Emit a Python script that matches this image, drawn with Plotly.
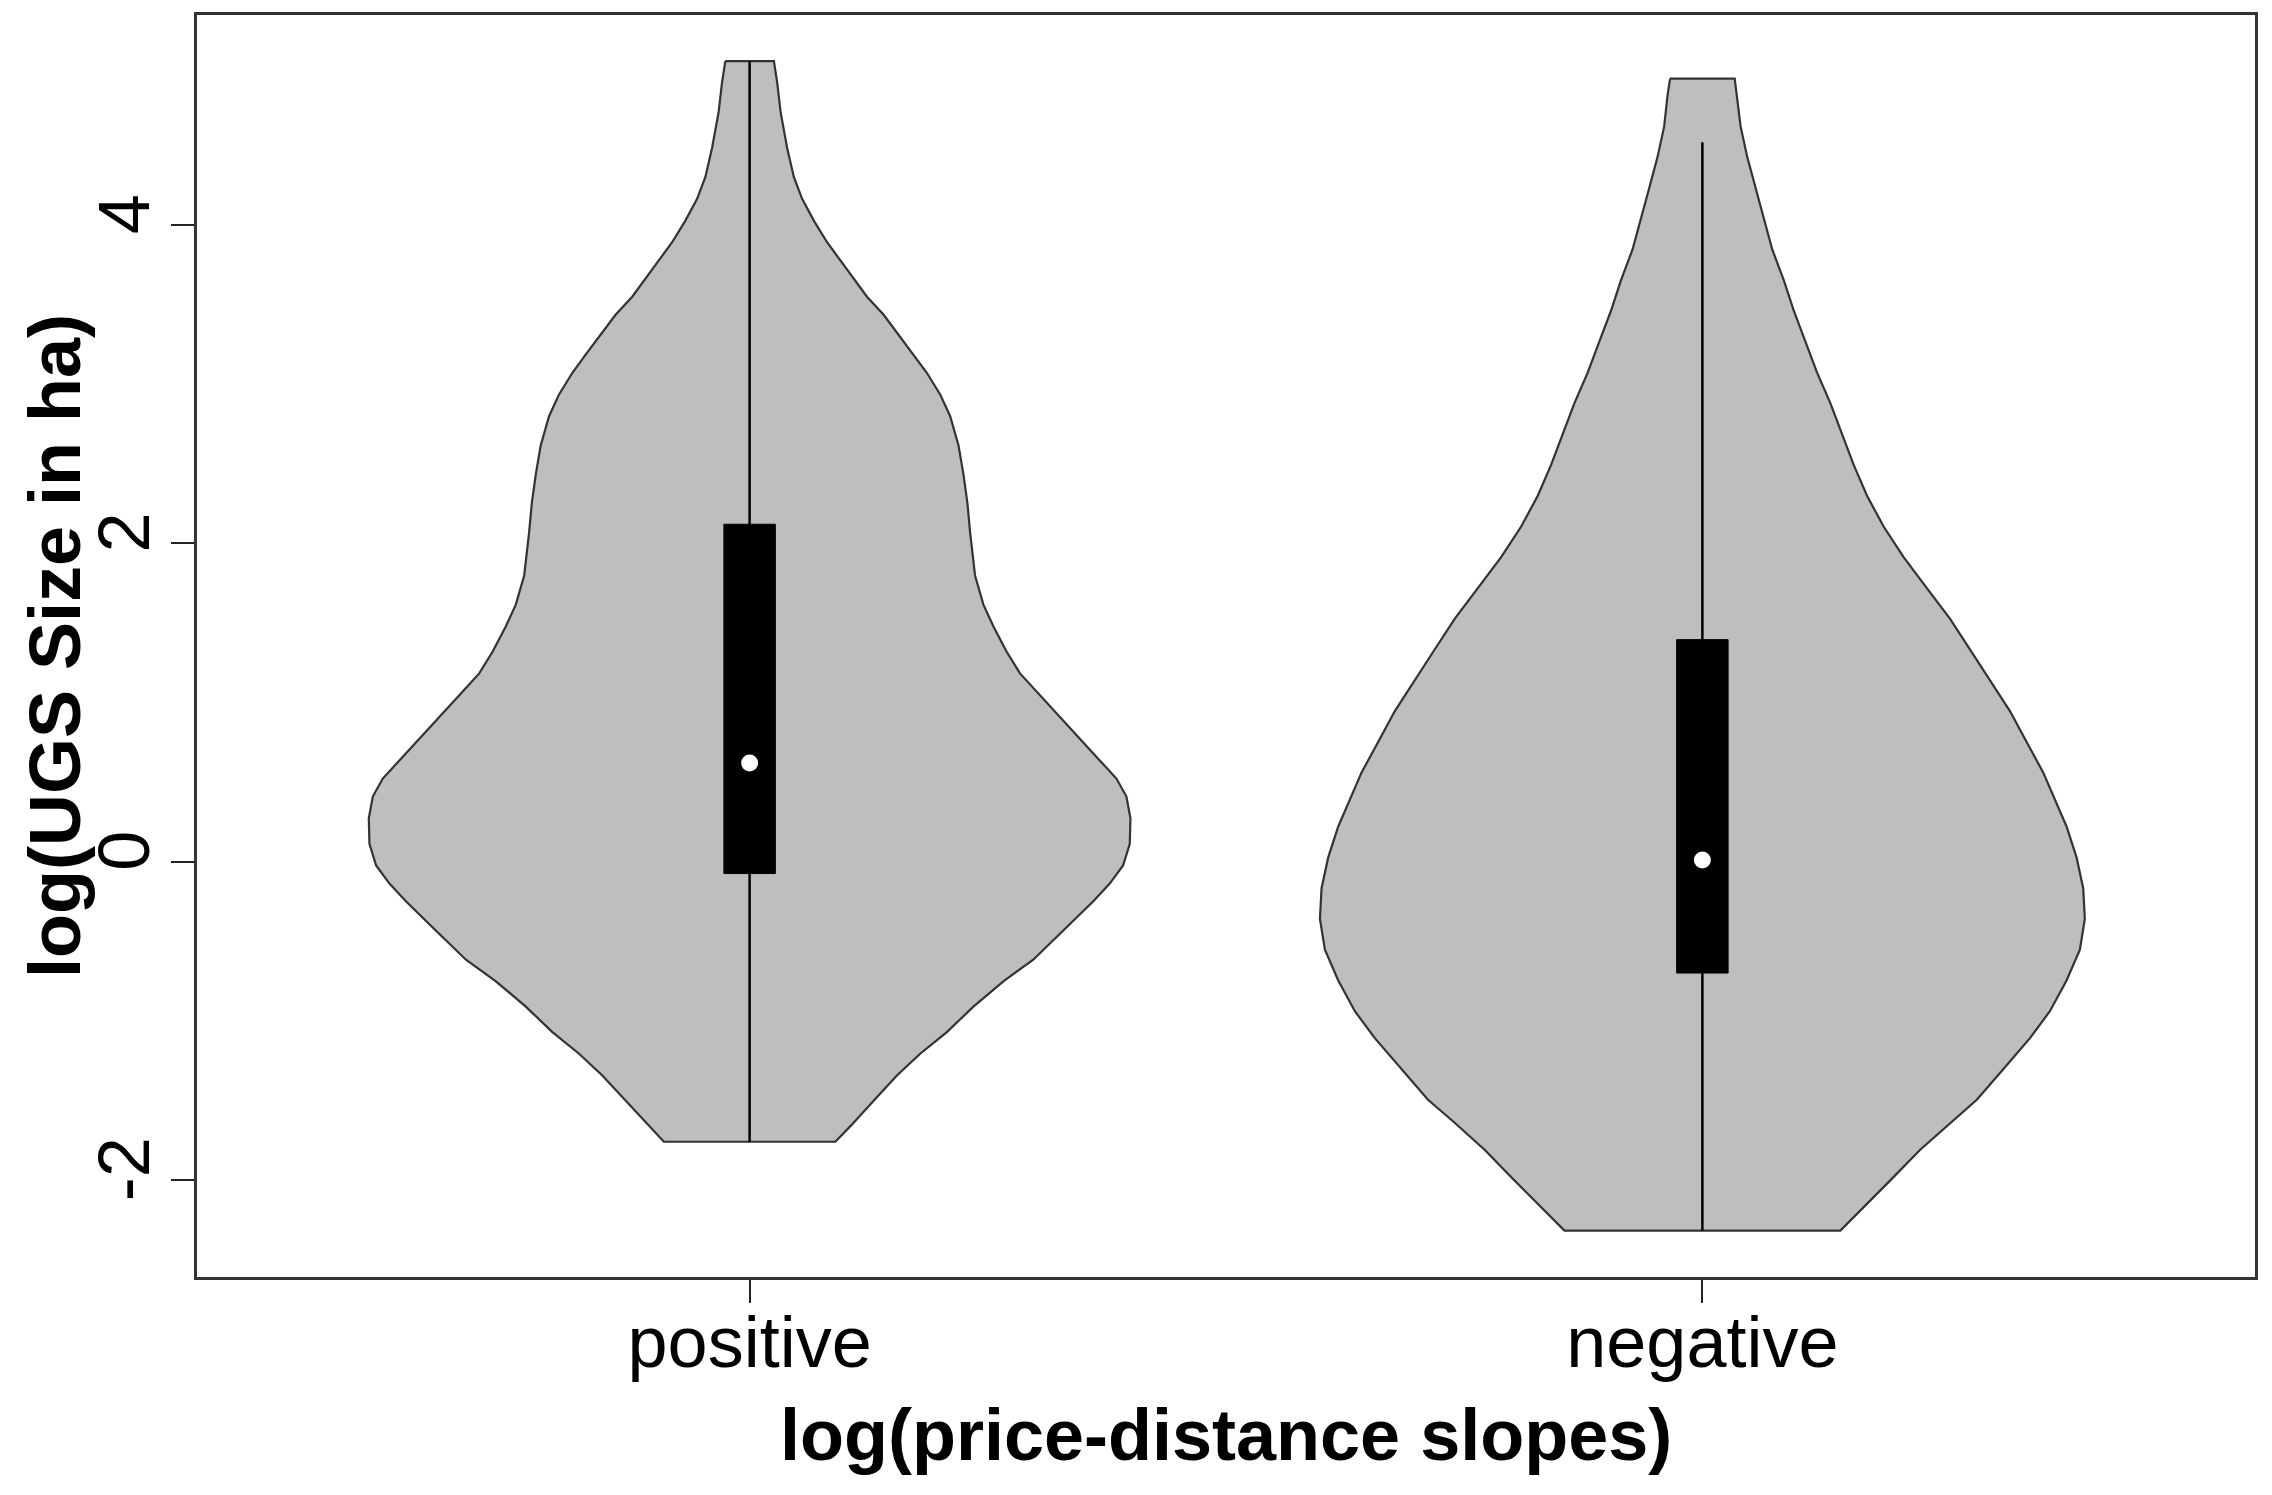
import plotly.graph_objects as go

# groups on the x axis
groups = ['positive', 'negative']
positions = [1, 2]
y_ticks = [-2, 0, 2, 4]
y_ticktext = ['-2', '0', '2', '4']

# violin outlines: y value and half-width (x units), top to bottom
pos_y = [5.030, 4.893, 4.711, 4.484, 4.302, 4.165, 4.028, 3.892, 3.778, 3.664, 3.550,
         3.436, 3.300, 3.186, 3.072, 2.936, 2.799, 2.617, 2.435, 2.253, 2.070, 1.798,
         1.615, 1.479, 1.319, 1.183, 1.046, 0.909, 0.773, 0.636, 0.522, 0.409, 0.272,
         0.112, -0.024, -0.138, -0.251, -0.434, -0.616, -0.752, -0.911, -1.071, -1.207,
         -1.344, -1.503, -1.662, -1.760]
pos_half = [0.0255, 0.029, 0.0325, 0.0394, 0.0464, 0.0551, 0.0674, 0.0813, 0.0953, 0.1092,
            0.1232, 0.1407, 0.1581, 0.1721, 0.1860, 0.2000, 0.2105, 0.2192, 0.2244, 0.2286,
            0.2314, 0.2366, 0.2454, 0.2558, 0.2698, 0.2838, 0.3047, 0.3257, 0.3466, 0.3675,
            0.3850, 0.3955, 0.3997, 0.3990, 0.3920, 0.3780, 0.3605, 0.3291, 0.2977, 0.2663,
            0.2349, 0.2070, 0.1790, 0.1546, 0.1302, 0.1058, 0.0900]

neg_y = [4.920, 4.813, 4.620, 4.427, 4.233, 4.040, 3.847, 3.653, 3.460, 3.267, 3.073,
         2.880, 2.686, 2.493, 2.299, 2.106, 1.913, 1.719, 1.526, 1.333, 1.139, 0.946,
         0.752, 0.559, 0.366, 0.221, 0.027, -0.167, -0.360, -0.553, -0.747, -0.940,
         -1.109, -1.279, -1.496, -1.641, -1.810, -2.003, -2.172, -2.318]
neg_half = [0.0339, 0.0366, 0.0401, 0.0471, 0.0558, 0.0646, 0.0733, 0.0855, 0.0960, 0.1082,
            0.1204, 0.1344, 0.1466, 0.1588, 0.1728, 0.1902, 0.2112, 0.2356, 0.2600, 0.2810,
            0.3019, 0.3228, 0.3403, 0.3578, 0.3717, 0.3822, 0.3927, 0.3997, 0.4014, 0.3962,
            0.3822, 0.3647, 0.3438, 0.3194, 0.2880, 0.2600, 0.2286, 0.1972, 0.1693, 0.1448]

# box summary
q1 = [-0.075, -0.70]
medians = [0.62, 0.01]
q3 = [2.12, 1.395]
whisker_lo = [-1.76, -2.318]
whisker_hi = [5.03, 4.52]
box_half = 0.027

FONT = "Liberation Sans, Arial, sans-serif"

fig = go.Figure()

for c, ys, hs in [(positions[0], pos_y, pos_half), (positions[1], neg_y, neg_half)]:
    xs = [c - h for h in hs] + [c + h for h in reversed(hs)]
    yy = ys + list(reversed(ys))
    fig.add_trace(go.Scatter(
        x=xs + [xs[0]], y=yy + [yy[0]],
        mode='lines', fill='toself', fillcolor='#BEBEBE',
        line=dict(color='#333333', width=2.2),
        hoverinfo='skip', showlegend=False,
    ))

for i, c in enumerate(positions):
    # whisker
    fig.add_trace(go.Scatter(
        x=[c, c], y=[whisker_lo[i], whisker_hi[i]], mode='lines',
        line=dict(color='#000000', width=2.5), showlegend=False, hoverinfo='skip'))
    # box
    fig.add_trace(go.Scatter(
        x=[c - box_half, c + box_half, c + box_half, c - box_half, c - box_half],
        y=[q1[i], q1[i], q3[i], q3[i], q1[i]],
        mode='lines', fill='toself', fillcolor='#000000',
        line=dict(color='#000000', width=1), showlegend=False, hoverinfo='skip'))

# medians
fig.add_trace(go.Scatter(
    x=positions, y=medians, mode='markers',
    marker=dict(color='white', size=17, line=dict(width=0)),
    showlegend=False, hoverinfo='skip'))

fig.update_layout(
    width=2272, height=1495,
    margin=dict(l=189, r=25, t=7, b=226, autoexpand=False),
    paper_bgcolor='white', plot_bgcolor='white',
    font=dict(family=FONT, color='black', size=72),
    xaxis=dict(
        range=[0.42, 2.58], tickvals=positions, ticktext=groups,
        ticks='outside', ticklen=23, tickwidth=2, tickcolor='#222',
        showgrid=False, zeroline=False, automargin=False,
        showline=True, mirror=True, linecolor='#333', linewidth=3,
        tickfont=dict(size=72), ticklabelstandoff=-22,
    ),
    yaxis=dict(
        range=[-2.61, 5.32], tickvals=y_ticks, ticktext=y_ticktext, tickangle=-90,
        ticks='outside', ticklen=23, tickwidth=2, tickcolor='#222',
        showgrid=False, zeroline=False, automargin=False,
        showline=True, mirror=True, linecolor='#333', linewidth=3,
        tickfont=dict(size=72), ticklabelstandoff=-7,
    ),
    annotations=[
        dict(text='<b>log(price-distance slopes)</b>', xref='paper', yref='paper',
             x=0.5, y=-0.1252, xanchor='center', yanchor='middle', showarrow=False,
             font=dict(size=72, family=FONT)),
        dict(text='<b>log(UGS Size in ha)</b>', xref='paper', yref='paper',
             x=-0.069, y=0.5, xanchor='center', yanchor='middle', textangle=-90,
             showarrow=False, font=dict(size=72, family=FONT)),
    ],
)

fig.write_html("out.html")
